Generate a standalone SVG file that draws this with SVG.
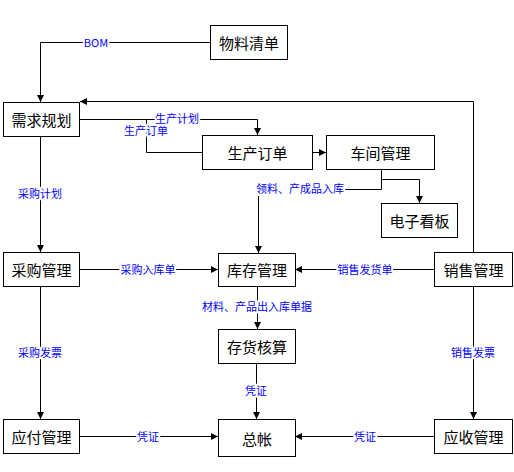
<svg xmlns="http://www.w3.org/2000/svg" width="514" height="472" viewBox="0 0 514 472">
<style>
.n rect{fill:#fff;stroke:#000;stroke-width:1}
.n text{font-family:"Noto Sans CJK SC","Liberation Sans",sans-serif;font-size:15px;fill:#000;text-anchor:middle;dominant-baseline:central}
.c path{fill:none;stroke:#000;stroke-width:1}
.c rect{fill:#fff;stroke:none}
.lb{font-family:"Noto Sans CJK SC","Liberation Sans",sans-serif;font-size:11px;fill:#00f;text-anchor:middle;dominant-baseline:central;stroke:#fff;stroke-width:4;paint-order:stroke;stroke-linejoin:round}
</style>
<defs>
<marker id="a" viewBox="0 0 8 8" refX="8" refY="4" markerWidth="7" markerHeight="7" markerUnits="userSpaceOnUse" orient="auto">
<path d="M0,0L8,4L0,8z" fill="#000"/>
</marker>
</defs>
<rect width="514" height="472" fill="#fff"/>
<g class="c">
<path d="M210.5,42.5H40.5V102" marker-end="url(#a)"/>
<path d="M473.5,252V101.5H80" marker-end="url(#a)"/>
<path d="M80,119.5H257.5V135" marker-end="url(#a)"/>
<path d="M202,152.5H146.5V119.5"/>
<path d="M312,152.5H326" marker-end="url(#a)"/>
<path d="M381.5,169V179.5H419.5V203" marker-end="url(#a)"/>
<path d="M381.5,169V189.5H258.5V253" marker-end="url(#a)"/>
<path d="M40.5,136V252" marker-end="url(#a)"/>
<path d="M79,269.5H218" marker-end="url(#a)"/>
<path d="M434,269.5H295" marker-end="url(#a)"/>
<path d="M257.5,286V329" marker-end="url(#a)"/>
<path d="M40.5,286V419" marker-end="url(#a)"/>
<path d="M473.5,286V419" marker-end="url(#a)"/>
<path d="M256.5,363V419" marker-end="url(#a)"/>
<path d="M79,436.5H218" marker-end="url(#a)"/>
<path d="M434,436.5H295" marker-end="url(#a)"/>
<rect x="255" y="182" width="90" height="14"/>
<text class="lb" x="96" y="42">BOM</text>
<text class="lb" x="146" y="130">生产订单</text>
<text class="lb" x="177" y="118">生产计划</text>
<text class="lb" x="300" y="188">领料、产成品入库</text>
<text class="lb" x="40" y="193">采购计划</text>
<text class="lb" x="148" y="269">采购入库单</text>
<text class="lb" x="365" y="269">销售发货单</text>
<text class="lb" x="257" y="306">材料、产品出入库单据</text>
<text class="lb" x="40" y="352">采购发票</text>
<text class="lb" x="473" y="352">销售发票</text>
<text class="lb" x="256" y="390">凭证</text>
<text class="lb" x="148" y="436">凭证</text>
<text class="lb" x="365" y="436">凭证</text>
</g>
<g id="wlqd" class="n"><rect x="210.5" y="25.5" width="77" height="34"/><text x="249" y="42.5">物料清单</text></g>
<g id="xqgh" class="n"><rect x="3.5" y="102.5" width="76" height="34"/><text x="41.5" y="119.5">需求规划</text></g>
<g id="scdd" class="n"><rect x="202.5" y="135.5" width="110" height="34"/><text x="257.5" y="152.5">生产订单</text></g>
<g id="cjgl" class="n"><rect x="326.5" y="135.5" width="108" height="34"/><text x="380.5" y="152.5">车间管理</text></g>
<g id="dzkb" class="n"><rect x="381.5" y="203.5" width="76" height="34"/><text x="419.5" y="220.5">电子看板</text></g>
<g id="cggl" class="n"><rect x="3.5" y="252.5" width="76" height="34"/><text x="41.5" y="269.5">采购管理</text></g>
<g id="kcgl" class="n"><rect x="218.5" y="253.5" width="77" height="33"/><text x="257" y="269.5">库存管理</text></g>
<g id="xsgl" class="n"><rect x="434.5" y="252.5" width="78" height="34"/><text x="473.5" y="269.5">销售管理</text></g>
<g id="chhs" class="n"><rect x="218.5" y="329.5" width="77" height="34"/><text x="257" y="346.5">存货核算</text></g>
<g id="yfgl" class="n"><rect x="3.5" y="419.5" width="76" height="34"/><text x="41.5" y="436.5">应付管理</text></g>
<g id="zz" class="n"><rect x="218.5" y="419.5" width="77" height="37"/><text x="257" y="438">总帐</text></g>
<g id="ysgl" class="n"><rect x="434.5" y="419.5" width="78" height="34"/><text x="473.5" y="436.5">应收管理</text></g>
</svg>
